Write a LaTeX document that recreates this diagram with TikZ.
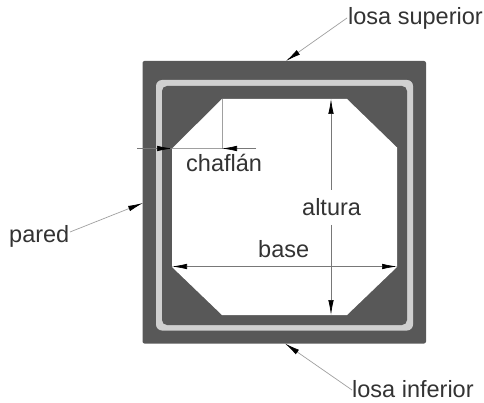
\documentclass[tikz,border=0pt]{standalone}
\usepackage{fontspec}
\setmainfont{Liberation Sans}
\usetikzlibrary{arrows.meta}
\definecolor{wall}{RGB}{88,88,88}
\definecolor{band}{RGB}{208,208,208}
\definecolor{dimline}{RGB}{120,120,120}
\tikzset{
  tip/.tip={Latex[length=15pt,width=5.5pt,color=black]},
  lbl/.style={inner sep=0pt,text=black!80,font=\fontsize{23.5}{26}\selectfont,anchor=base west},
  dimarrow/.style={draw=dimline,line width=0.7pt,-tip},
  bothways/.style={draw=dimline,line width=0.7pt,tip-tip},
  leader/.style={draw=dimline!70,line width=0.7pt,-tip},
  guide/.style={draw=dimline!70,line width=0.7pt}
}
\begin{document}
\begin{tikzpicture}[x=1pt,y=-1pt]
\useasboundingbox (0,0) rectangle (484,403);
\fill[white] (0,0) rectangle (484,403);
% body
\fill[wall,rounded corners=2pt] (142.5,61) rectangle (426,343.5);
\fill[band,rounded corners=6pt] (156,80) rectangle (413,330.5);
\fill[wall,rounded corners=5pt] (162,86) rectangle (407,325);
\fill[white] (222,99) -- (347,99) -- (397,147.5) -- (397,267) -- (347,315) -- (222,315) -- (172,267) -- (172,148.5) -- cycle;
% reference points
\coordinate (cL) at (172,148.5);
\coordinate (cR) at (222,148.5);
\coordinate (cT) at (222,99);
\coordinate (cFarL) at (137,148.5);
\coordinate (cFarR) at (256,148.5);
\coordinate (aT) at (331,99);
\coordinate (aB) at (331,315);
\coordinate (aGapT) at (331,190);
\coordinate (aGapB) at (331,225);
\coordinate (bL) at (172,266.5);
\coordinate (bR) at (397,266.5);
\coordinate (sup) at (286,61);
\coordinate (inf) at (285,343.5);
\coordinate (par) at (143,203);
\coordinate (supS) at (347,18);
\coordinate (infS) at (352,390);
\coordinate (parS) at (70,232);
% labels
\node[lbl] (nsup) at (348,25) {losa superior};
\node[lbl] (ninf) at (352,397) {losa inferior};
\node[lbl] (npar) at (9,243) {pared};
\node[lbl] (ncha) at (186,172) {chaflán};
\node[lbl] (nalt) at (302,215) {altura};
\node[lbl] (nbas) at (258,258) {base};
% dimensions
\draw[guide] (cT) -- (cR);
\draw[guide] (cFarL) -- (cFarR);
\draw[dimarrow] (cFarL) -- (cL);
\draw[dimarrow] (cFarR) -- (cR);
\draw[dimarrow] (aGapT) -- (aT);
\draw[dimarrow] (aGapB) -- (aB);
\draw[bothways] (bL) -- (bR);
% leaders
\draw[leader] (supS) -- (sup);
\draw[leader] (infS) -- (inf);
\draw[leader] (parS) -- (par);
\end{tikzpicture}
\end{document}
